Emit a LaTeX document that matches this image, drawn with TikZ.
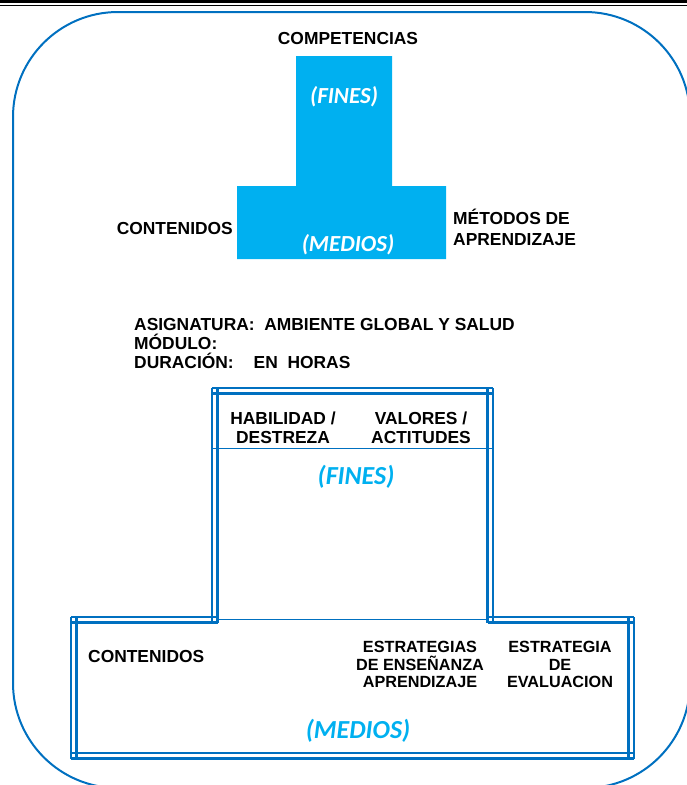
\documentclass[tikz,border=0pt]{standalone}
\usepackage{fontspec}
\setmainfont{Liberation Sans}
\newfontfamily\calibrifont{Carlito}
\definecolor{frameblue}{RGB}{0,112,192}
\definecolor{skyblue}{RGB}{0,176,240}

\begin{document}
\begin{tikzpicture}[x=1pt, y=-1pt,
  lbl/.style={font=\fontsize{17.4}{19}\selectfont\bfseries, align=center, inner sep=0pt},
  tag/.style={font=\fontsize{23}{25}\selectfont\calibrifont\bfseries\itshape, inner sep=0pt},
  bigtag/.style={tag, font=\fontsize{26}{28}\selectfont\calibrifont\bfseries\itshape, skyblue},
  dbl/.style={frameblue, line width=2.6pt},
  hair/.style={frameblue, line width=1pt}]

\useasboundingbox (0,0) rectangle (687,785);

% Header rules
\fill (0,0) rectangle (687,3.4);
\fill (0,4.6) rectangle (687,6.4);

% Rounded frame
\draw[frameblue, line width=2pt, rounded corners=105pt] (13,12) rectangle (690,788);

% Upper block (solid)
\fill[skyblue] (296,56) -- (392,56) -- (392,186) -- (446,186) -- (446,259)
  -- (237,259) -- (237,186) -- (296,186) -- cycle;

\node[lbl] (comp) at (348,39) {COMPETENCIAS};
\node[tag, white] (fines1) at (344,97) {(FINES)};
\node[tag, white] (medios1) at (348,245) {(MEDIOS)};
\node[lbl, anchor=east] (cont1) at (233,229) {CONTENIDOS};
\node[lbl, anchor=west, align=left, font=\fontsize{17.4}{21}\selectfont\bfseries] (metodos) at (453,227.5) {MÉTODOS DE\\APRENDIZAJE};

% Course data
\node[lbl, anchor=north west, align=left] (datos) at (134,318) {ASIGNATURA:\ \ AMBIENTE GLOBAL Y SALUD\\MÓDULO:\\DURACIÓN:\hspace*{20pt}EN\ \ HORAS};

% Lower block (double lines)
\foreach \y in {388,393.5}
  \draw[dbl] (212,\y) -- (493,\y);
\foreach \x in {212,217.5,487.5,493}
  \draw[dbl] (\x,388) -- (\x,622.5);
\foreach \y in {617,622.5} {
  \draw[dbl] (71,\y) -- (217.5,\y);
  \draw[dbl] (487.5,\y) -- (634,\y);
}
\foreach \y in {753,758.5}
  \draw[dbl] (71,\y) -- (634,\y);
\foreach \x in {71,76.5,628.5,634}
  \draw[dbl] (\x,617) -- (\x,758.5);
\draw[hair] (212,448) -- (493,448);
\draw[hair] (217.5,619.5) -- (487.5,619.5);

\node[lbl] (habil) at (283,428) {HABILIDAD /\\DESTREZA};
\node[lbl] (valores) at (421,428) {VALORES /\\ACTITUDES};
\node[bigtag] (fines2) at (356,477) {(FINES)};
\node[lbl, anchor=west] (cont2) at (88,657) {CONTENIDOS};
\node[lbl, font=\fontsize{16.2}{17.5}\selectfont\bfseries] (ensena) at (420,664.5) {ESTRATEGIAS\\DE ENSEÑANZA\\APRENDIZAJE};
\node[lbl, font=\fontsize{16.2}{17.5}\selectfont\bfseries] (evalua) at (560,664.5) {ESTRATEGIA\\DE\\EVALUACION};
\node[bigtag] (medios2) at (358,731) {(MEDIOS)};

\end{tikzpicture}
\end{document}
